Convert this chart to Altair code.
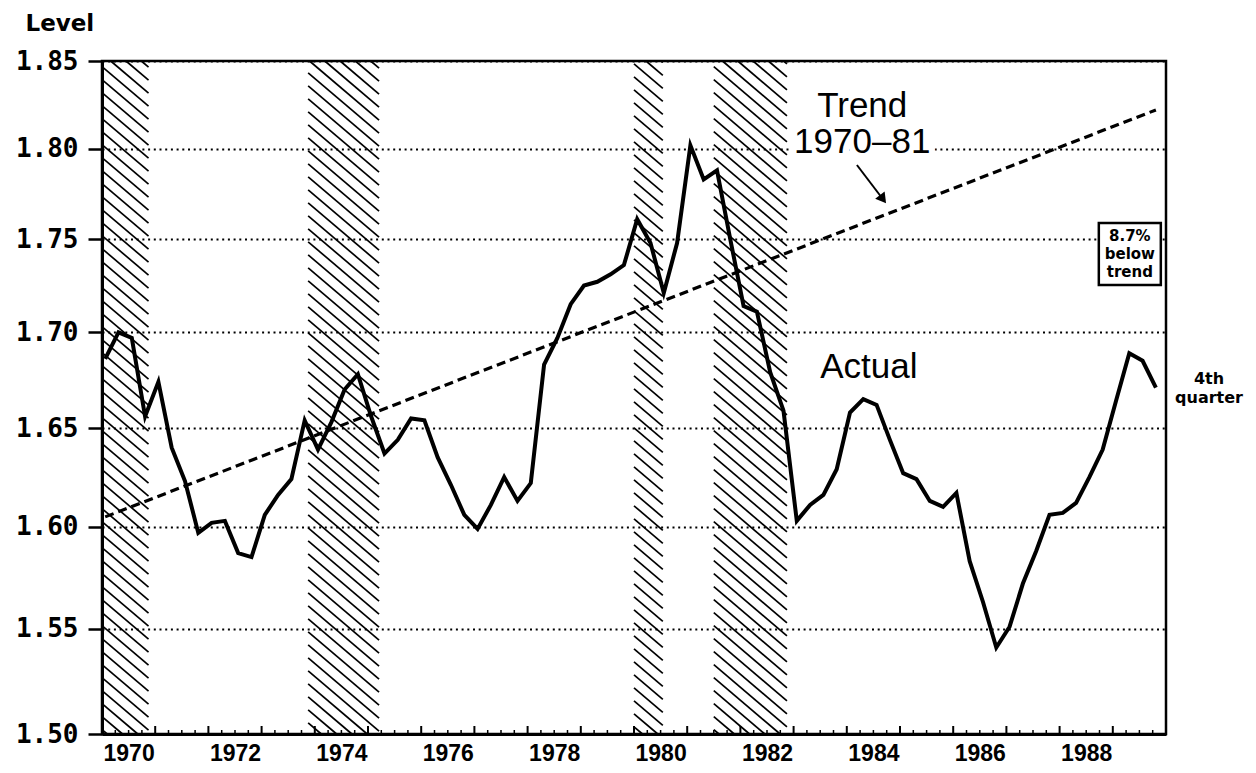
import altair as alt
import pandas as pd

# ---------------- data ----------------
years = list(range(1970, 1990))
level = [1.686, 1.700, 1.697, 1.656, 1.674, 1.640, 1.623, 1.597, 1.602, 1.603,
         1.587, 1.585, 1.606, 1.616, 1.624, 1.654, 1.639, 1.653, 1.670, 1.678,
         1.656, 1.637, 1.644, 1.655, 1.654, 1.635, 1.621, 1.606, 1.599, 1.611,
         1.625, 1.613, 1.622, 1.683, 1.697, 1.715, 1.725, 1.727, 1.731, 1.736,
         1.761, 1.748, 1.721, 1.748, 1.802, 1.783, 1.788, 1.750, 1.714, 1.711,
         1.679, 1.659, 1.603, 1.611, 1.616, 1.629, 1.658, 1.665, 1.662, 1.644,
         1.627, 1.624, 1.613, 1.610, 1.617, 1.583, 1.563, 1.541, 1.551, 1.572,
         1.588, 1.606, 1.607, 1.612, 1.625, 1.639, 1.664, 1.689, 1.685, 1.671]
trend_start = 1.605
trend_end = 1.822
rec_start = [1970.0, 1973.875, 1980.0, 1981.5]
rec_end = [1970.875, 1975.208, 1980.542, 1982.875]
y_ticks = [1.50, 1.55, 1.60, 1.65, 1.70, 1.75, 1.80, 1.85]
x_label_years = [1970, 1972, 1974, 1976, 1978, 1980, 1982, 1984, 1986, 1988]

# ---------------- geometry ----------------
W, H = 1064, 673
X0, X1 = 1970, 1990
Y0, Y1 = 1.50, 1.85

t = [y + q / 4 + 0.06 for y in years for q in range(4)]
df = pd.DataFrame({"t": t, "level": level})
trend_df = pd.DataFrame({"t": [t[0], t[-1]], "level": [trend_start, trend_end]})

# hatching of recession bands (diagonal lines, computed in scale space)
def px_to_year(px):
    return X0 + px / W * (X1 - X0)

def py_to_val(py):
    return Y0 * (Y1 / Y0) ** (1 - py / H)

slope, gap = 0.85, 13.0
rows = []
for s, e in zip(rec_start, rec_end):
    a = (s - X0) / (X1 - X0) * W
    b = (e - X0) / (X1 - X0) * W
    c = -slope * W
    while c < H:
        xa, xb = a, b
        if c + slope * xa < 0:
            xa = -c / slope
        if c + slope * xb > H:
            xb = (H - c) / slope
        if xb > xa + 0.5:
            rows.append(dict(x=px_to_year(xa), x2=px_to_year(xb),
                             y=py_to_val(c + slope * xa), y2=py_to_val(c + slope * xb)))
        c += gap
hatch_df = pd.DataFrame(rows)

quarter_ticks = pd.DataFrame({"x": [y + q / 4 for y in years for q in range(1, 4)]})
year_ticks = pd.DataFrame({"x": [y for y in years[1:]]})

xscale = alt.Scale(domain=[X0, X1], nice=False, zero=False)
yscale = alt.Scale(type="log", domain=[Y0, Y1], nice=False)

xaxis = alt.Axis(values=[y + 0.5 for y in x_label_years], labelExpr="floor(datum.value)",
                 ticks=False, grid=False, title=None, labelFlush=False,
                 labelFont="Liberation Sans Narrow, Liberation Sans", labelFontSize=23,
                 labelFontWeight="bold", labelColor="black", labelPadding=8,
                 domainColor="black", domainWidth=3)
yaxis = alt.Axis(values=y_ticks, format=".2f",
                 title="Level", titleAngle=0,
                 titleAlign="left", titleBaseline="alphabetic", titleX=-77, titleY=-31,
                 titleFont="DejaVu Sans", titleFontSize=23, titleFontWeight="bold",
                 titleColor="black",
                 labelFont="DejaVu Sans Mono", labelFontSize=26, labelFontWeight="bold",
                 labelColor="black",
                 labelPadding=10, tickSize=14, tickWidth=2.5, tickColor="black",
                 domainColor="black", domainWidth=3, grid=True, gridColor="black",
                 gridDash=[2, 3.7], gridWidth=2, gridOpacity=1, labelFlush=False)

def X(field):
    return alt.X(field, type="quantitative", scale=xscale, axis=xaxis)

def Y(field):
    return alt.Y(field, type="quantitative", scale=yscale, axis=yaxis)

hatch = alt.Chart(hatch_df).mark_rule(color="black", strokeWidth=1.7).encode(
    x=X("x"), x2="x2", y=Y("y"), y2="y2")

trend = alt.Chart(trend_df).mark_line(color="black", strokeWidth=3.2, strokeDash=[9, 5]).encode(
    x=X("t"), y=Y("level"))

actual = alt.Chart(df).mark_line(color="black", strokeWidth=4, strokeJoin="miter").encode(
    x=X("t"), y=Y("level"))

qt = alt.Chart(quarter_ticks).mark_rule(color="black", strokeWidth=1.5).encode(
    x=X("x"), y=alt.value(H), y2=alt.value(H - 4))
yt = alt.Chart(year_ticks).mark_rule(color="black", strokeWidth=2).encode(
    x=X("x"), y=alt.value(H), y2=alt.value(H - 8))

# annotations
trend_lbl = pd.DataFrame({"x": [1984.29], "y": [1.818], "text": ["Trend\n1970\u201381"]})
halo = alt.Chart(trend_lbl).mark_text(font="Liberation Sans", fontSize=35, align="center",
                                       baseline="alphabetic", lineBreak="\n", lineHeight=36,
                                       fill="white", stroke="white", strokeWidth=12).encode(
    x=X("x"), y=Y("y"), text="text:N")
trend_text = alt.Chart(trend_lbl).mark_text(font="Liberation Sans", fontSize=35, align="center",
                                             baseline="alphabetic", lineBreak="\n", lineHeight=36,
                                             color="black").encode(
    x=X("x"), y=Y("y"), text="text:N")

actual_lbl = pd.DataFrame({"x": [1983.50], "y": [1.676], "text": ["Actual"]})
actual_text = alt.Chart(actual_lbl).mark_text(font="Liberation Sans", fontSize=35, align="left",
                                               baseline="alphabetic", color="black").encode(
    x=X("x"), y=Y("y"), text="text:N")

arrow_df = pd.DataFrame({"x": [1984.19], "x2": [1984.68], "y": [1.791], "y2": [1.772]})
arrow_line = alt.Chart(arrow_df).mark_rule(color="black", strokeWidth=2).encode(
    x=X("x"), x2="x2", y=Y("y"), y2="y2")
arrow_head = alt.Chart(arrow_df).mark_point(shape="triangle-up", size=140, filled=True,
                                             color="black", opacity=1, angle=143).encode(
    x=X("x2"), y=Y("y2"))

box_df = pd.DataFrame({"x": [1989.32], "y": [1.742], "text": ["8.7%\nbelow\ntrend"]})
box = alt.Chart(box_df).mark_point(shape="square", size=62 * 62, filled=True, fill="white",
                                    stroke="black", strokeWidth=2.5, opacity=1).encode(
    x=X("x"), y=Y("y"))
box_text = alt.Chart(box_df).mark_text(font="DejaVu Sans", fontSize=15, fontWeight="bold",
                                        align="center", baseline="middle", lineBreak="\n",
                                        lineHeight=18, dy=-18, color="black").encode(
    x=X("x"), y=Y("y"), text="text:N")

q4_df = pd.DataFrame({"x": [X1], "y": [level[-1]], "text": ["4th\nquarter"]})
q4_text = alt.Chart(q4_df).mark_text(font="DejaVu Sans", fontSize=16, fontWeight="bold",
                                      align="center", baseline="middle", lineBreak="\n",
                                      lineHeight=19, dx=43, dy=-9, color="black").encode(
    x=X("x"), y=Y("y"), text="text:N")

chart = alt.layer(
    hatch, trend, actual, qt, yt, halo, trend_text, actual_text,
    arrow_line, arrow_head, box, box_text, q4_text
).properties(
    width=W, height=H,
    padding={"left": 94, "top": 53, "right": 82, "bottom": 31},
    autosize=alt.AutoSizeParams(type="none"),
    background="white",
).configure_view(stroke="black", strokeWidth=2.5)

chart.save("out.html", embed_options={"renderer": "svg", "actions": False})
